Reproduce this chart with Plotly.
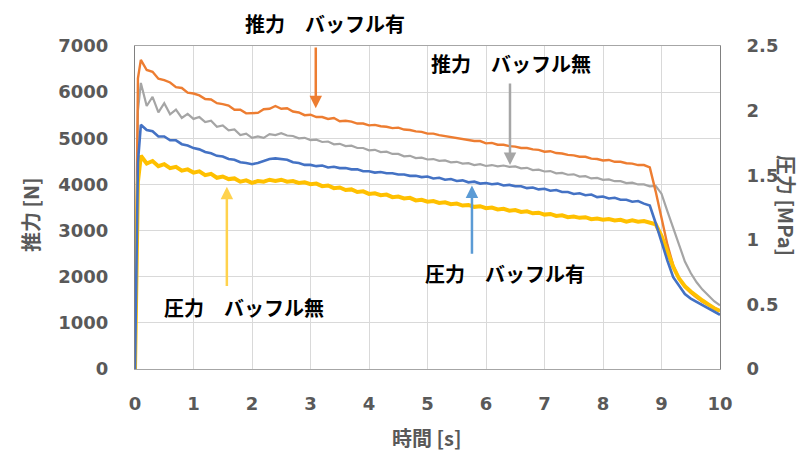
import plotly.graph_objects as go

# ---------------- data ----------------
time_start = [0.0, 0.02, 0.05]
time_main = [round(0.1 * i, 1) for i in range(1, 101)]
time_s = time_start + time_main

# 推力 バッフル有 [N]
thrust_with = [0, 3000, 6300,
    6700, 6480, 6440, 6290, 6260, 6210, 6110, 6090, 5990, 5970,
    5930, 5850, 5840, 5760, 5740, 5710, 5620, 5620, 5540, 5550,
    5550, 5630, 5640, 5700, 5640, 5650, 5580, 5560, 5500, 5510,
    5460, 5460, 5420, 5440, 5370, 5380, 5360, 5320, 5320, 5280,
    5290, 5260, 5250, 5220, 5230, 5190, 5180, 5150, 5140, 5100,
    5100, 5070, 5050, 5030, 5010, 4980, 4970, 4940, 4940, 4890,
    4900, 4860, 4860, 4830, 4820, 4790, 4790, 4760, 4750, 4710,
    4720, 4680, 4670, 4640, 4630, 4600, 4600, 4560, 4550, 4520,
    4530, 4490, 4490, 4460, 4450, 4420, 4420, 4370, 3850, 3300,
    2700, 2250, 1950, 1780, 1650, 1550, 1460, 1390, 1320, 1260]

# 推力 バッフル無 [N]
thrust_without = [0, 2500, 5600,
    6200, 5700, 5900, 5560, 5760, 5520, 5620, 5440, 5530, 5420,
    5460, 5350, 5380, 5250, 5280, 5170, 5190, 5070, 5100, 5010,
    5040, 5010, 5090, 5070, 5110, 5060, 5050, 5000, 5010, 4960,
    4970, 4920, 4930, 4870, 4880, 4830, 4840, 4790, 4790, 4740,
    4750, 4700, 4710, 4660, 4660, 4610, 4620, 4570, 4580, 4540,
    4550, 4510, 4520, 4480, 4490, 4450, 4460, 4420, 4440, 4400,
    4420, 4390, 4410, 4380, 4390, 4350, 4360, 4310, 4320, 4280,
    4290, 4240, 4250, 4210, 4220, 4170, 4180, 4130, 4140, 4100,
    4110, 4070, 4070, 4030, 4040, 4000, 4000, 3960, 3970, 3800,
    3420, 3070, 2680, 2330, 2080, 1880, 1720, 1590, 1470, 1380]

# 圧力 バッフル有 [MPa]
pressure_with = [0, 0.6, 1.6,
    1.89, 1.85, 1.84, 1.80, 1.80, 1.77, 1.77, 1.74, 1.73, 1.71,
    1.70, 1.68, 1.67, 1.65, 1.645, 1.625, 1.62, 1.60, 1.595, 1.585,
    1.595, 1.61, 1.625, 1.63, 1.625, 1.62, 1.60, 1.595, 1.58, 1.58,
    1.57, 1.575, 1.56, 1.565, 1.555, 1.555, 1.545, 1.545, 1.53, 1.53,
    1.52, 1.525, 1.515, 1.515, 1.505, 1.505, 1.495, 1.495, 1.485, 1.49,
    1.475, 1.48, 1.465, 1.47, 1.455, 1.46, 1.445, 1.45, 1.435, 1.44,
    1.43, 1.435, 1.42, 1.425, 1.415, 1.415, 1.40, 1.405, 1.39, 1.395,
    1.38, 1.385, 1.37, 1.37, 1.355, 1.36, 1.345, 1.35, 1.33, 1.335,
    1.32, 1.325, 1.31, 1.31, 1.295, 1.30, 1.28, 1.265, 1.13, 0.98,
    0.84, 0.71, 0.64, 0.58, 0.545, 0.52, 0.49, 0.47, 0.445, 0.42]

# 圧力 バッフル無 [MPa]
pressure_without = [0, 0.5, 1.45,
    1.65, 1.59, 1.61, 1.57, 1.585, 1.555, 1.565, 1.535, 1.545, 1.52,
    1.53, 1.50, 1.51, 1.48, 1.49, 1.47, 1.475, 1.45, 1.46, 1.44,
    1.455, 1.45, 1.465, 1.455, 1.465, 1.45, 1.455, 1.44, 1.445, 1.43,
    1.435, 1.415, 1.42, 1.40, 1.405, 1.385, 1.39, 1.37, 1.375, 1.355,
    1.36, 1.345, 1.35, 1.33, 1.335, 1.32, 1.325, 1.305, 1.31, 1.295,
    1.30, 1.285, 1.29, 1.275, 1.28, 1.265, 1.27, 1.255, 1.26, 1.245,
    1.25, 1.235, 1.24, 1.225, 1.23, 1.215, 1.22, 1.205, 1.21, 1.195,
    1.20, 1.185, 1.19, 1.175, 1.18, 1.17, 1.175, 1.16, 1.165, 1.155,
    1.16, 1.15, 1.155, 1.14, 1.15, 1.14, 1.145, 1.135, 1.12, 1.03,
    0.91, 0.79, 0.70, 0.64, 0.60, 0.56, 0.53, 0.50, 0.47, 0.45]

x_ticks = list(range(0, 11))
y_ticks = list(range(0, 7001, 1000))
y2_ticks = [0, 0.5, 1, 1.5, 2, 2.5]

# annotation arrows: (x, head_y, tail_y)
arrow_thrust_with = (3.09, 5650, 7000)
arrow_thrust_without = (6.41, 4420, 6220)
arrow_press_with = (5.76, 1.42, 0.88)
arrow_press_without = (1.57, 1.41, 0.63)

labels = ["推力　バッフル有", "推力　バッフル無", "圧力　バッフル有", "圧力　バッフル無"]

# ---------------- figure ----------------
W, H = 809, 456
L, R, T, B = 135, 89, 46, 87
pw, ph = W - L - R, H - T - B

def px(xp):
    return (xp - L) / pw

def py(yp):
    return (H - B - yp) / ph

ORANGE = "#ED7D31"
GRAY = "#A5A5A5"
BLUE = "#4472C4"
YELLOW = "#FFC000"
TXT = "#595959"

fig = go.Figure()
fig.add_trace(go.Scatter(x=time_s, y=pressure_without, yaxis="y2", mode="lines",
                         line=dict(color=YELLOW, width=4), name=labels[3]))
fig.add_trace(go.Scatter(x=time_s, y=pressure_with, yaxis="y2", mode="lines",
                         line=dict(color=BLUE, width=2.6), name=labels[2]))
fig.add_trace(go.Scatter(x=time_s, y=thrust_without, yaxis="y", mode="lines",
                         line=dict(color=GRAY, width=2.2), name=labels[1]))
fig.add_trace(go.Scatter(x=time_s, y=thrust_with, yaxis="y", mode="lines",
                         line=dict(color=ORANGE, width=2.4), name=labels[0]))

tickfont = dict(family="DejaVu Sans", size=18, color=TXT, weight="bold")
fig.update_layout(
    width=W, height=H, margin=dict(l=L, r=R, t=T, b=B),
    paper_bgcolor="white", plot_bgcolor="white", showlegend=False,
    xaxis=dict(range=[0, 10], tickvals=x_ticks, showgrid=True, gridcolor="#D9D9D9",
               gridwidth=1, showline=True, linecolor="#A6A6A6", linewidth=1, mirror=True,
               zeroline=False, tickfont=tickfont, ticks="", ticklabelstandoff=18),
    yaxis=dict(range=[0, 7000], tickvals=y_ticks, tickformat="d", showgrid=True,
               gridcolor="#D9D9D9", gridwidth=1, showline=True, linecolor="#808080",
               linewidth=1, zeroline=False, tickfont=tickfont, ticks="",
               ticklabelstandoff=22),
    yaxis2=dict(range=[0, 2.5], tickvals=y2_ticks, overlaying="y", side="right",
                showgrid=False, showline=True, linecolor="#808080", linewidth=1,
                zeroline=False, tickfont=tickfont, ticks="", ticklabelstandoff=22),
)

# arrows
for (ax_, hy, ty), yref, col in [
    (arrow_thrust_with, "y", ORANGE),
    (arrow_thrust_without, "y", "#A6A6A6"),
    (arrow_press_with, "y2", "#5B9BD5"),
    (arrow_press_without, "y2", "#FFD24D"),
]:
    fig.add_annotation(x=ax_, y=hy, ax=ax_, ay=ty, xref="x", yref=yref,
                       axref="x", ayref=yref, text="", showarrow=True,
                       arrowhead=2, arrowsize=1, arrowwidth=2.5, arrowcolor=col,
                       standoff=0, startstandoff=0)

lab_font = dict(family="Noto Sans CJK JP", size=20, color="#000000", weight="bold")
for txt, (cx, cy) in zip(labels, [(325, 23), (511, 64), (505, 273), (244, 307)]):
    fig.add_annotation(x=px(cx), y=py(cy), xref="paper", yref="paper", text=txt,
                       showarrow=False, font=lab_font, xanchor="center", yanchor="middle")

title_font = dict(family="Noto Sans CJK JP", size=20, color=TXT, weight="bold")
fig.add_annotation(x=px(30), y=py(215), xref="paper", yref="paper", text="推力 [N]",
                   textangle=-90, showarrow=False, font=title_font,
                   xanchor="center", yanchor="middle")
fig.add_annotation(x=px(427), y=py(437), xref="paper", yref="paper", text="時間 [s]",
                   showarrow=False, font=title_font, xanchor="center", yanchor="middle")
fig.add_annotation(x=px(787), y=py(205), xref="paper", yref="paper", text="圧力 [MPa]",
                   textangle=90, showarrow=False, font=title_font,
                   xanchor="center", yanchor="middle")

fig.write_html("out.html")
